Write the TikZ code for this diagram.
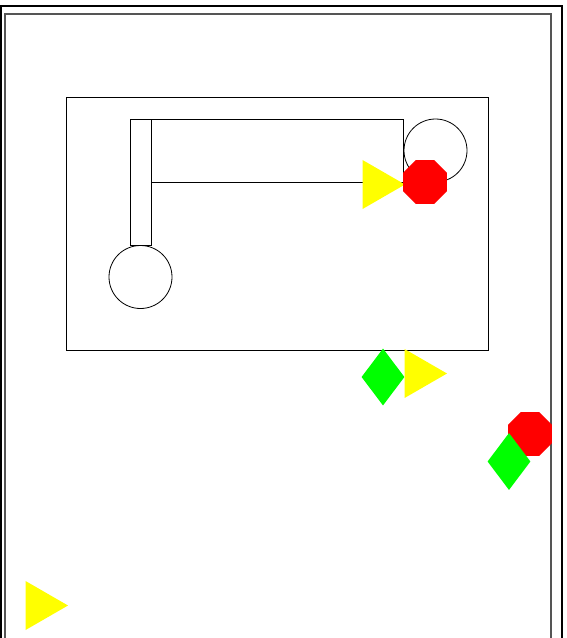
\documentclass[tikz,border=0pt]{standalone}
\usepackage{xcolor}
\usetikzlibrary{shapes.geometric}
\definecolor{signyellow}{RGB}{255,255,0}
\definecolor{signred}{RGB}{255,0,0}
\definecolor{signgreen}{RGB}{0,255,0}
\definecolor{framegray}{RGB}{85,85,85}

\begin{document}
\begin{tikzpicture}[
  x=1pt, y=-1pt,
  wall/.style={draw=black, line width=0.8pt},
  hole/.style={circle, draw=black, line width=0.8pt, inner sep=0pt,
               minimum size=63pt},
  flag/.style={regular polygon, regular polygon sides=3,
               shape border rotate=-90, fill=signyellow, inner sep=0pt,
               minimum size=56.6pt},
  stopsign/.style={regular polygon, regular polygon sides=8, fill=signred,
                   inner sep=0pt, minimum size=47.6pt},
  marker/.style={diamond, fill=signgreen, inner sep=0pt, minimum width=43pt,
                 minimum height=57pt}
]
\useasboundingbox (0,0) rectangle (566,638);
\clip (0,0) rectangle (566,638);
% frames
\draw[line width=2.4pt] (1,650) -- (1,6) -- (562,6) -- (562,650);
\draw[framegray, line width=1.3pt] (5,650) -- (5,14) -- (551,14) -- (551,650);
% plan
\draw[wall] (66,97) rectangle (488,350);
\draw[wall] (130,119) rectangle (151,245);
\draw[wall] (151,119) rectangle (403,182);
\node[hole] (holeA) at (435.5,150.5) {};
\node[hole] (holeB) at (140.5,277) {};
% signs
\node[flag] (flagA) at (376.7,184.5) {};
\node[stopsign] (stopA) at (425,182) {};
\node[marker] (markA) at (383,377) {};
\node[flag] (flagB) at (418.7,373.5) {};
\node[stopsign] (stopB) at (530,434) {};
\node[marker] (markB) at (509,461.5) {};
\node[flag] (flagC) at (39.7,605.5) {};
\end{tikzpicture}
\end{document}
